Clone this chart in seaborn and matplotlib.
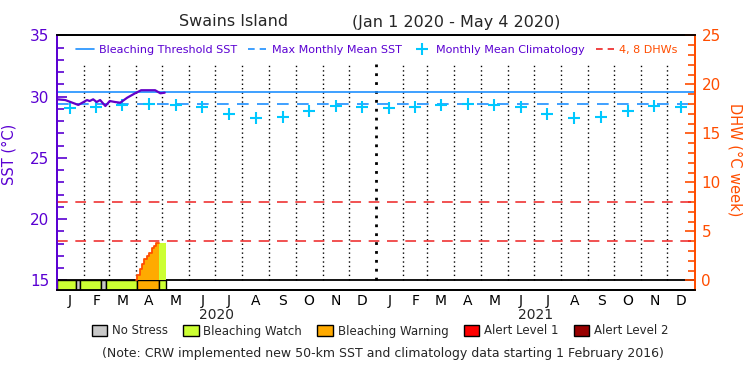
import numpy as np
import pandas as pd
import matplotlib
matplotlib.use("Agg")
import matplotlib.pyplot as plt
import matplotlib.transforms as mtransforms
from matplotlib.lines import Line2D
from matplotlib.patches import Patch
import seaborn as sns

# ---------------- data ----------------
site_name = "Swains Island"
date_range_text = "(Jan 1 2020 - May 4 2020)"
note_text = "(Note: CRW implemented new 50-km SST and climatology data starting 1 February 2016)"
month_letters = ["J", "F", "M", "A", "M", "J", "J", "A", "S", "O", "N", "D"]
year_labels = ["2020", "2021"]

# daily SST (day index from 1 Jan 2020)
sst_days = [0, 10, 25, 35, 38, 42, 46, 50, 56, 61, 67, 73, 81, 90, 97, 113, 119, 124]
sst_vals = [29.79, 29.73, 29.33, 29.73, 29.65, 29.79, 29.57, 29.73, 29.24, 29.65,
            29.57, 29.51, 29.92, 30.28, 30.53, 30.53, 30.28, 30.33]

# monthly mean climatology (Jan..Dec)
clim_vals = [29.06, 29.14, 29.33, 29.38, 29.33, 29.14, 28.57, 28.24, 28.37, 28.84, 29.27, 29.19]

mmm_sst = 29.4
threshold_sst = 30.4
dhw_ref_levels = [4, 8]

# degree heating weeks (step values)
dhw_days = [91, 92.8, 95.1, 97.8, 100.5, 103.6, 106.5, 109.3, 111.2, 114.2, 116.9, 125]
dhw_vals = [0.0, 0.56, 1.14, 1.65, 2.16, 2.5, 2.84, 3.29, 3.55, 3.8, 3.8, 3.8]

# stress level bar segments
stress_start = [0, 22.7, 26.5, 50.7, 56.8, 92.8, 116.9]
stress_end = [22.7, 26.5, 50.7, 56.8, 92.8, 116.9, 125]
stress_level = [1, 0, 1, 0, 1, 2, 1]
stress_names = ["No Stress", "Bleaching Watch", "Bleaching Warning", "Alert Level 1", "Alert Level 2"]
stress_colors = ["#c8c8c8", "#ccff33", "#ffaa00", "#ff0000", "#990000"]

# ---------------- style ----------------
sns.set_style("white")
plt.rcParams["font.family"] = ["DejaVu Sans"]

PURPLE = "#5a00d2"
ORANGE = "#ff4d00"
BLUE = "#1e90ff"
CYAN = "#00c8ff"
RED = "#ee2222"

start = pd.Timestamp("2020-01-01")
month_starts = pd.date_range("2020-01-01", "2022-01-01", freq="MS")
month_pos = np.array([(d - start).days for d in month_starts])
mid_pos = (month_pos[:-1] + month_pos[1:]) / 2.0
x_end = month_pos[-1]

fig = plt.figure(figsize=(7.5, 3.75), dpi=100)
ax = fig.add_axes([56.5 / 750, 85 / 375, 638 / 750, 255 / 375])
ax.set_xlim(0, x_end)
ax.set_ylim(14.22, 35.04)

# month dividers (thicker at the year boundary)
for d, p in zip(month_starts[1:-1], month_pos[1:-1]):
    lw = 2.0 if d.month == 1 else 1.0
    ax.vlines(p, 15, 32.7, colors="black", linestyles=(0, (1, 2.2)), linewidth=lw, zorder=1)

# threshold & MMM
ax.axhline(threshold_sst, color=BLUE, linewidth=1.2, zorder=2)
ax.axhline(mmm_sst, color=BLUE, linewidth=1.2, linestyle=(0, (7, 5)), zorder=2)

# climatology
clim_df = pd.DataFrame({"day": mid_pos, "sst": clim_vals + clim_vals})
sns.scatterplot(data=clim_df, x="day", y="sst", marker="+", s=75, color=CYAN,
                linewidth=1.5, ax=ax, zorder=3, legend=False)

# SST
sst_df = pd.DataFrame({"day": sst_days, "sst": sst_vals})
sns.lineplot(data=sst_df, x="day", y="sst", color="#6400c8", linewidth=1.6, ax=ax, zorder=4)

# stress bar
for s0, s1, lv in zip(stress_start, stress_end, stress_level):
    ax.bar(s0, 15 - 14.22, width=s1 - s0, bottom=14.22, align="edge",
           color=stress_colors[lv], edgecolor="black", linewidth=1.0, zorder=5)
ax.axhline(15, color="black", linewidth=1.3, zorder=6)

# DHW axis
ax2 = ax.twinx()
ax2.set_ylim(-0.97, 25.05)
dd = np.array(dhw_days)
dv = np.array(dhw_vals)
ax2.fill_between(dd, 0, dv, step="post", where=dd <= 116.9, color=stress_colors[2],
                 linewidth=0, zorder=2)
ax2.fill_between(dd, 0, dv, step="post", where=dd >= 116.9, color=stress_colors[1],
                 linewidth=0, zorder=2)
m = dd <= 116.9
ax2.step(dd[m], dv[m], where="post", color=ORANGE, linewidth=1.3, zorder=3)
for lv in dhw_ref_levels:
    ax2.axhline(lv, color=RED, linewidth=1.1, linestyle=(0, (7, 5)), zorder=2)

# axes styling
ax.set_xlabel("")
ax.set_ylabel("")
ax.set_xticks(mid_pos)
ax.set_xticklabels(month_letters * 2, fontsize=10)
ax.tick_params(axis="x", length=0, pad=3, colors="black")
ax.set_yticks([15, 20, 25, 30, 35])
ax.set_yticks(np.arange(15, 36, 1), minor=True)
ax.tick_params(axis="y", which="major", direction="in", length=7, width=1.2,
               colors=PURPLE, labelsize=11, pad=5)
ax.tick_params(axis="y", which="minor", direction="in", length=5, width=1.2, colors=PURPLE)

ax2.set_yticks([0, 5, 10, 15, 20, 25])
ax2.set_yticks(np.arange(0, 26, 1), minor=True)
ax2.tick_params(axis="y", which="major", direction="in", length=7, width=1.2,
                colors=ORANGE, labelsize=11, pad=5)
ax2.tick_params(axis="y", which="minor", direction="in", length=5, width=1.2, colors=ORANGE)

for a in (ax, ax2):
    a.spines["top"].set_color("black")
    a.spines["bottom"].set_color("black")
    a.spines["left"].set_color(PURPLE)
    a.spines["right"].set_color(ORANGE)
    for s in a.spines.values():
        s.set_linewidth(1.3)

ax.set_ylabel("SST (°C)", color=PURPLE, fontsize=10.5)
ax.yaxis.set_label_coords(-0.062, 0.53)
ax2.set_ylabel("DHW (°C week)", color=ORANGE, fontsize=10.5, rotation=270, va="center")
ax2.yaxis.set_label_coords(1.064, 0.51)

# year labels
trans = mtransforms.blended_transform_factory(ax.transData, ax.transAxes)
for i, yl in enumerate(year_labels):
    ax.text((month_pos[12 * i] + month_pos[12 * i + 12]) / 2, -0.098, yl, transform=trans,
            ha="center", va="center", fontsize=10)

# top legend
handles = [Line2D([], [], color=BLUE, lw=1.2),
           Line2D([], [], color=BLUE, lw=1.2, ls=(0, (4, 3))),
           Line2D([], [], color=CYAN, lw=0, marker="+", markersize=9, markeredgewidth=1.5),
           Line2D([], [], color=RED, lw=1.2, ls=(0, (4, 3)))]
labels = ["Bleaching Threshold SST", "Max Monthly Mean SST", "Monthly Mean Climatology", "4, 8 DHWs"]
ax2.legend(handles, labels, loc="center", bbox_to_anchor=(0.502, 0.941), ncol=4,
           frameon=False, fontsize=8, handlelength=1.6, handletextpad=0.5,
           columnspacing=1.0, labelcolor=[PURPLE, PURPLE, PURPLE, ORANGE])

# title
fig.text(234 / 750, 1 - 22 / 375, site_name, ha="center", va="center", fontsize=11.5)
fig.text(456 / 750, 1 - 22 / 375, date_range_text, ha="center", va="center", fontsize=11.5)

# bottom legend
patches = [Patch(facecolor=c, edgecolor="black", linewidth=1.0) for c in stress_colors]
fig.legend(patches, stress_names, loc="center", bbox_to_anchor=(380 / 750, 1 - 331 / 375),
           ncol=5, frameon=False, fontsize=8.5, handlelength=1.3, handleheight=1.1,
           handletextpad=0.4, columnspacing=1.3)

fig.text(383 / 750, 1 - 354 / 375, note_text, ha="center", va="center", fontsize=9)

fig.savefig("out.png", dpi=100)
